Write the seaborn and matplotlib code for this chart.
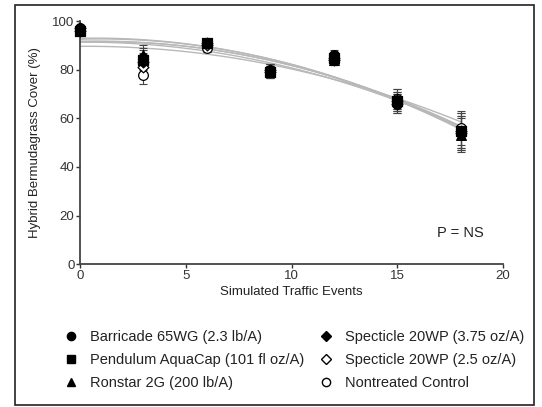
import numpy as np
import pandas as pd
import matplotlib
matplotlib.use("Agg")
import matplotlib.pyplot as plt
import seaborn as sns
from matplotlib.patches import Rectangle

# data
events = [0, 3, 6, 9, 12, 15, 18]
treatments = ["Barricade 65WG (2.3 lb/A)", "Pendulum AquaCap (101 fl oz/A)",
              "Ronstar 2G (200 lb/A)", "Specticle 20WP (3.75 oz/A)",
              "Specticle 20WP (2.5 oz/A)", "Nontreated Control"]
barricade = [97, 85, 91, 80, 86, 66, 54]
pendulum = [96, 84, 91, 79, 85, 67, 55]
ronstar = [97, 86, 91, 80, 84, 68, 53]
specticle_hi = [96, 83, 91, 80, 85, 66, 55]
specticle_lo = [97, 81, 90, 79, 84, 67, 54]
control = [96, 78, 89, 79, 84, 68, 56]
err = [1.5, 4, 1.5, 2.5, 2, 4, 7]

series = [barricade, pendulum, ronstar, specticle_hi, specticle_lo, control]
markers = ["o", "s", "^", "D", "D", "o"]
filled = [True, True, True, True, False, False]
msizes = [7, 7, 7, 5.5, 5.5, 7]

rows = []
for t, vals in zip(treatments, series):
    for x, y, e in zip(events, vals, err):
        rows.append({"Treatment": t, "Events": x, "Cover": y, "Err": e})
df = pd.DataFrame(rows)

sns.set_style("ticks")
plt.rcParams['font.family'] = ['Liberation Sans', 'DejaVu Sans']

fig = plt.figure(figsize=(5.42, 4.07), dpi=100)
ax = fig.add_axes([0.1476, 0.351, 0.7806, 0.597])

# fitted curves
xs = np.linspace(0, 18, 100)
for t in treatments:
    d = df[df.Treatment == t]
    coef = np.polyfit(d.Events, d.Cover, 2)
    sns.lineplot(x=xs, y=np.polyval(coef, xs), ax=ax, color="#b8b8b8", lw=1.0, zorder=2)

handles = []
order = [5, 4, 3, 2, 1, 0]
for i in order:
    t, m, f, s = treatments[i], markers[i], filled[i], msizes[i]
    d = df[df.Treatment == t]
    ax.errorbar(d.Events, d.Cover, yerr=d.Err, fmt="none", ecolor="#444444",
                elinewidth=0.8, capsize=3, capthick=0.8, zorder=3, clip_on=False)
    sc = sns.scatterplot(x=d.Events, y=d.Cover, ax=ax, marker=m, s=s ** 2,
                         color="black" if f else "white", edgecolor="black",
                         linewidth=0.9, zorder=4, legend=False, clip_on=False)
for t, m, f, s in zip(treatments, markers, filled, msizes):
    handles.append(plt.Line2D([], [], ls="none", marker=m, markersize=s * 0.85,
                              markerfacecolor="black" if f else "white",
                              markeredgecolor="black", label=t))

ax.set_xlim(0, 20)
ax.set_ylim(0, 100)
ax.set_xticks([0, 5, 10, 15, 20])
ax.set_yticks([0, 20, 40, 60, 80, 100])
ax.set_xlabel("Simulated Traffic Events", fontsize=9.5, labelpad=3, color="#222222")
ax.set_ylabel("Hybrid Bermudagrass Cover (%)", fontsize=9.5, labelpad=8, color="#222222")
ax.tick_params(labelsize=9.5, length=3, width=1, colors="#333333", pad=1)
for sp in ["left", "bottom"]:
    ax.spines[sp].set_color("#444444")
    ax.spines[sp].set_linewidth(1.3)
sns.despine(ax=ax)

ax.text(18, 13, "P = NS", ha="center", va="center", fontsize=10.5, color="#222222")

fig.legend(handles=handles, ncol=2, loc="lower center", bbox_to_anchor=(0.535, 0.01),
           frameon=False, fontsize=10.5, handletextpad=0.3, columnspacing=0.5,
           labelspacing=0.6, labelcolor="#222222")

# outer frame
fig.patches.append(Rectangle((15 / 542, 2 / 407), 519 / 542, 400 / 407,
                             transform=fig.transFigure, fill=False,
                             edgecolor="#222222", lw=1.2))

fig.savefig("out.png", dpi=100)
